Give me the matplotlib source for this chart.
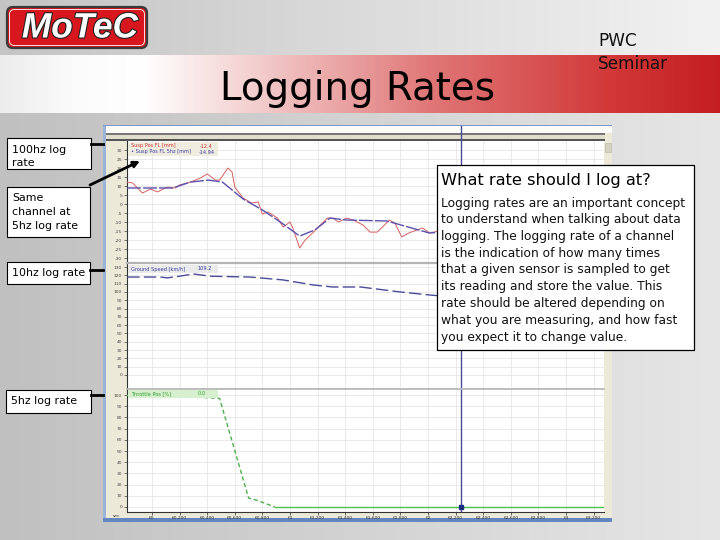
import numpy as np
import matplotlib
matplotlib.use("Agg")
import matplotlib.pyplot as plt
from matplotlib.patches import Rectangle, FancyBboxPatch
import matplotlib.patheffects as pe
from matplotlib.colors import to_rgb

# ---------------- data ----------------
susp_100hz_t = [59.82, 59.86, 59.93, 59.99, 60.04, 60.11, 60.17, 60.20, 60.28, 60.35,
                60.40, 60.43, 60.46, 60.49, 60.55, 60.58, 60.60, 60.66, 60.72, 60.77,
                60.80, 60.84, 60.91, 60.95, 61.00, 61.02, 61.07, 61.11, 61.17, 61.22,
                61.27, 61.31, 61.35, 61.41, 61.46, 61.53, 61.58, 61.63, 61.67, 61.72,
                61.76, 61.81, 61.86, 61.92, 61.96, 62.01, 62.12, 62.24, 62.38, 62.52,
                62.67, 62.81, 62.96, 63.10, 63.25]
susp_100hz_mm = [12.2, 11.7, 6.1, 8.3, 6.7, 9.4, 8.9, 10.6, 12.2, 14.4,
                 16.7, 15.0, 13.3, 13.3, 20.0, 17.8, 9.4, 3.3, 0.6, 1.1,
                 -5.6, -4.4, -7.8, -12.8, -10.0, -13.3, -24.4, -20.0, -15.6, -11.7,
                 -7.8, -7.8, -10.0, -7.8, -8.9, -11.7, -15.6, -15.6, -12.8, -8.9,
                 -10.6, -18.3, -16.1, -14.4, -13.3, -16.1, -14.4, -12.4, -13.5, -12.0,
                 -14.8, -15.6, -13.5, -14.6, -16.0]
susp_5hz_t = [59.82, 60.15, 60.28, 60.41, 60.51, 60.66, 60.80, 60.93, 61.07, 61.18,
              61.29, 61.41, 61.70, 62.01, 62.24, 62.52, 62.88, 63.28]
susp_5hz_mm = [8.9, 8.9, 12.2, 13.3, 12.2, 2.8, -3.3, -10.0, -17.8, -14.4,
               -7.8, -8.9, -9.4, -16.1, -14.94, -15.0, -13.0, -16.0]
speed_t = [59.82, 60.06, 60.11, 60.20, 60.30, 60.42, 60.71, 60.95, 61.17, 61.31,
           61.51, 61.80, 62.01, 62.24, 62.52, 62.88, 63.28]
speed_kmh = [118, 118, 117, 119, 121.7, 119, 118, 114.5, 108.4, 106,
             106, 100, 96.4, 93, 90, 86, 82]
throttle_t = [59.82, 60.33, 60.35, 60.49, 60.70, 60.76, 60.89, 63.28]
throttle_pct = [100, 100, 98, 97, 8, 6, 0, 0]
cursor_t = 62.24

time_ticks = [60.0, 60.2, 60.4, 60.6, 60.8, 61.0, 61.2, 61.4, 61.6, 61.8,
              62.0, 62.2, 62.4, 62.6, 62.8, 63.0, 63.2]
time_labels = ["60", "60.200", "60.400", "60.600", "60.800", "61", "61.200", "61.400",
               "61.600", "61.800", "62", "62.200", "62.400", "62.600", "62.800", "63", "63.200"]
susp_ticks = [30, 25, 20, 15, 10, 5, 0, -5, -10, -15, -20, -25, -30]
speed_ticks = [130, 120, 110, 100, 90, 80, 70, 60, 50, 40, 30, 20, 10, 0]
throttle_ticks = [100, 90, 80, 70, 60, 50, 40, 30, 20, 10, 0]

legend_susp = [("Susp Pos FL [mm]", "-12.4"), ("Susp Pos FL 5hz [mm]", "-14.94")]
legend_speed = ("Ground Speed [km/h]", "109.2")
legend_thr = ("Throttle Pos [%]", "0.0")

left_labels = ["100hz log\nrate", "Same\nchannel at\n5hz log rate", "10hz log rate", "5hz log rate"]
box_title = "What rate should I log at?"
box_lines = ["Logging rates are an important concept",
             "to understand when talking about data",
             "logging. The logging rate of a channel",
             "is the indication of how many times",
             "that a given sensor is sampled to get",
             "its reading and store the value. This",
             "rate should be altered depending on",
             "what you are measuring, and how fast",
             "you expect it to change value."]

# ---------------- figure ----------------
W, H = 720, 540
fig = plt.figure(figsize=(7.2, 5.4), dpi=100)

def frac(x0, y0, x1, y1):
    return [x0 / W, 1 - y1 / H, (x1 - x0) / W, (y1 - y0) / H]

bg = fig.add_axes([0, 0, 1, 1], zorder=0)
bg.set_xlim(0, W); bg.set_ylim(H, 0); bg.axis("off")

def hgrad(ax, x0, x1, y0, y1, stops, z=0):
    n = 512
    pos = np.linspace(0, 1, n)
    sp = [s[0] for s in stops]
    cols = np.array([to_rgb(s[1]) for s in stops])
    img = np.stack([np.interp(pos, sp, cols[:, i]) for i in range(3)], axis=-1)[None, :, :]
    ax.imshow(img, extent=[x0, x1, y1, y0], aspect="auto", zorder=z, interpolation="bilinear")

hgrad(bg, 0, W, 0, 55, [(0, "#c4c4c4"), (1, "#f2f2f2")])
hgrad(bg, 0, W, 55, 113, [(0, "#ececec"), (0.1, "#fbfbfb"), (0.2, "#ffffff"), (0.36, "#f3cccc"),
                          (0.6, "#e07676"), (0.85, "#d23838"), (1, "#c41e22")])
hgrad(bg, 0, W, 113, H, [(0, "#c0c0c0"), (1, "#e6e6e6")])
bg.set_xlim(0, W); bg.set_ylim(H, 0)

# logo
bg.add_patch(FancyBboxPatch((7, 7), 140, 41, boxstyle="round,pad=0,rounding_size=6",
                            facecolor="#d8161e", edgecolor="#3a3a3a", lw=1.6, zorder=2))
bg.add_patch(FancyBboxPatch((9.5, 9.5), 135, 36, boxstyle="round,pad=0,rounding_size=5",
                            facecolor="none", edgecolor="#ffffff", lw=0.6, zorder=3))
logo = bg.text(80, 28, "MoTeC", ha="center", va="center", color="white",
               fontsize=22, fontweight="bold", fontstyle="italic", family="Liberation Sans",
               zorder=4, path_effects=[pe.withStroke(linewidth=1.6, foreground="#222222")])

# screenshot window
bg.add_patch(Rectangle((103, 125), 509, 397, facecolor="#ece9d8", edgecolor="none", zorder=2))
bg.add_patch(Rectangle((103, 125), 3, 397, facecolor="#9ab4d6", edgecolor="none", zorder=3))
bg.add_patch(Rectangle((103, 124.5), 509, 1.5, facecolor="#7a96c8", edgecolor="none", zorder=3))
bg.add_patch(Rectangle((106, 126), 506, 7, facecolor="#fbfbf8", edgecolor="none", zorder=3))
bg.add_patch(Rectangle((106, 133), 499, 2, facecolor="#777777", edgecolor="none", zorder=3))
bg.add_patch(Rectangle((106, 135), 499, 4, facecolor="#e2decd", edgecolor="none", zorder=3))
bg.add_patch(Rectangle((106, 139), 499, 2, facecolor="#555555", edgecolor="none", zorder=3))
bg.add_patch(Rectangle((103, 518), 509, 4, facecolor="#6286bd", edgecolor="none", zorder=3))
bg.add_patch(Rectangle((605, 143), 6, 9, facecolor="#d6d2c2", edgecolor="#bbb8a8", lw=0.5, zorder=3))
bg.plot([461, 461], [126, 141], color="#4a4a9a", lw=1, zorder=4)

# ---------------- data panels ----------------
xlim = (59.819, 63.275)

def panel(rect, ylim, yticks, bottom=False):
    ax = fig.add_axes(frac(*rect), zorder=2)
    ax.set_xlim(*xlim); ax.set_ylim(*ylim)
    ax.set_facecolor("white")
    ax.set_xticks(time_ticks)
    ax.set_yticks(yticks)
    ax.set_yticklabels([str(v) for v in yticks])
    ax.grid(True, color="#e6e6e6", lw=0.6)
    ax.set_axisbelow(True)
    for s in ["top", "right"]:
        ax.spines[s].set_visible(False)
    ax.spines["left"].set_color("#333333"); ax.spines["left"].set_linewidth(0.8)
    ax.spines["bottom"].set_visible(bottom)
    ax.spines["bottom"].set_color("#333333"); ax.spines["bottom"].set_linewidth(0.8)
    ax.tick_params(axis="y", labelsize=3.2, length=2.5, width=0.5, pad=1, colors="#444444")
    if bottom:
        ax.set_xticklabels(time_labels)
        ax.tick_params(axis="x", labelsize=3.2, length=2, width=0.5, pad=1, colors="#333333")
    else:
        ax.tick_params(axis="x", length=0, labelbottom=False)
    ax.axvline(cursor_t, color="#4a4a9a", lw=1, zorder=5)
    return ax

ax1 = panel((127, 141, 604, 262), (-32.2, 35.0), susp_ticks)
ax1.plot(susp_100hz_t, susp_100hz_mm, color="#d86060", lw=0.7, zorder=3)
ax1.plot(susp_5hz_t, susp_5hz_mm, color="#5a50b0", lw=1.0, zorder=4, dashes=(10, 1.5))

ax2 = panel((127, 264, 604, 388), (-15.7, 133.7), speed_ticks)
ax2.plot(speed_t, speed_kmh, color="#4a4a98", lw=1.0, dashes=(9, 3), zorder=3)

ax3 = panel((127, 389, 604, 512), (-4.5, 105.4), throttle_ticks, bottom=True)
ax3.plot(throttle_t[:2], throttle_pct[:2], color="#4cc04c", lw=1.0, zorder=3)
ax3.plot(throttle_t[1:7], throttle_pct[1:7], color="#4cb04c", lw=1.0, dashes=(3, 2), zorder=3)
ax3.plot(throttle_t[6:], throttle_pct[6:], color="#4cc04c", lw=1.0, zorder=3)
ax3.plot([cursor_t], [0], marker="s", markersize=3, color="#1c2c80", zorder=6, clip_on=False)

# ---------------- overlay ----------------
ov = fig.add_axes([0, 0, 1, 1], zorder=5)
ov.set_xlim(0, W); ov.set_ylim(H, 0); ov.axis("off"); ov.patch.set_alpha(0)

# panel separators
ov.plot([127, 604], [263, 263], color="#b4b4b4", lw=1.6)
ov.plot([127, 604], [388.5, 388.5], color="#b4b4b4", lw=1.2)
ov.text(116, 516, "sec", fontsize=3.2, color="#333333", ha="center", va="center")

# panel legends
ov.add_patch(Rectangle((128, 142), 90, 14, facecolor="#efece0", edgecolor="none"))
ov.text(131, 146, legend_susp[0][0], fontsize=3.6, color="#cc3333", va="center")
ov.text(200, 146, legend_susp[0][1], fontsize=3.6, color="#cc3333", va="center")
ov.text(131, 152, "\u2022 " + legend_susp[1][0], fontsize=3.6, color="#3a3aa0", va="center")
ov.text(199, 152, legend_susp[1][1], fontsize=3.6, color="#3a3aa0", va="center")
ov.add_patch(Rectangle((128, 265), 90, 8, facecolor="#ebebeb", edgecolor="none"))
ov.text(131, 269, legend_speed[0], fontsize=3.6, color="#3a3aa0", va="center")
ov.text(198, 269, legend_speed[1], fontsize=3.6, color="#3a3aa0", va="center")
ov.add_patch(Rectangle((128, 389.5), 90, 8, facecolor="#d6f0cf", edgecolor="none"))
ov.text(131, 393.5, legend_thr[0], fontsize=3.6, color="#2a9a2a", va="center")
ov.text(198, 393.5, legend_thr[1], fontsize=3.6, color="#2a9a2a", va="center")

# titles
title = ov.text(220, 100, "Logging Rates", fontsize=34, color="black", ha="left",
                va="baseline", family="DejaVu Sans")
pwc1 = ov.text(598, 41, "PWC", fontsize=13, color="#111111", ha="left", va="center",
               family="DejaVu Sans")
pwc2 = ov.text(598, 64, "Seminar", fontsize=13, color="#111111", ha="left", va="center",
               family="DejaVu Sans")

# left label boxes
boxes = [(7, 138, 91, 169), (7, 187, 90, 237), (7, 262, 90, 284), (6, 390, 91, 413)]
line_ys = [[150, 163], [198, 212, 226], [273], [401]]
left_txts = []
for (x0, y0, x1, y1), txt, ys in zip(boxes, left_labels, line_ys):
    ov.add_patch(Rectangle((x0, y0), x1 - x0, y1 - y0, facecolor="white", edgecolor="black", lw=0.8))
    for yy, ln in zip(ys, txt.split("\n")):
        left_txts.append(ov.text(x0 + 5, yy, ln, fontsize=8, ha="left", va="center",
                                 family="DejaVu Sans"))
ov.plot([91, 103], [144, 144], color="black", lw=2)
ov.plot([90, 103], [270, 270], color="black", lw=2)
ov.plot([91, 103], [395, 395], color="black", lw=2)
ov.annotate("", xy=(140, 161), xytext=(90, 185),
            arrowprops=dict(arrowstyle="-|>", lw=2, color="black", mutation_scale=9,
                            shrinkA=0, shrinkB=0))

# text box
ov.add_patch(Rectangle((437, 165), 257, 185, facecolor="white", edgecolor="black", lw=0.9, zorder=6))
btitle = ov.text(441, 181, box_title, fontsize=12, ha="left", va="center", zorder=7,
                 family="DejaVu Sans")
body = []
for i, ln in enumerate(box_lines):
    body.append(ov.text(441, 203 + 16.75 * i, ln, fontsize=9.5, ha="left", va="center", zorder=7,
                        family="DejaVu Sans", color="#111111"))

# ---- fit text widths ----
fig.canvas.draw()
r = fig.canvas.get_renderer()

def fit(t, w):
    for _ in range(3):
        bw = t.get_window_extent(r).width
        t.set_fontsize(t.get_fontsize() * w / bw)

fit(title, 275)
fit(logo, 116)
fit(pwc2, 70)
pwc1.set_fontsize(pwc2.get_fontsize())
fit(btitle, 210)
fit(body[0], 245)
for t in body[1:]:
    t.set_fontsize(body[0].get_fontsize())
fit(left_txts[-1], 66)
for t in left_txts[:-1]:
    t.set_fontsize(left_txts[-1].get_fontsize())

fig.savefig("out.png", dpi=100)
